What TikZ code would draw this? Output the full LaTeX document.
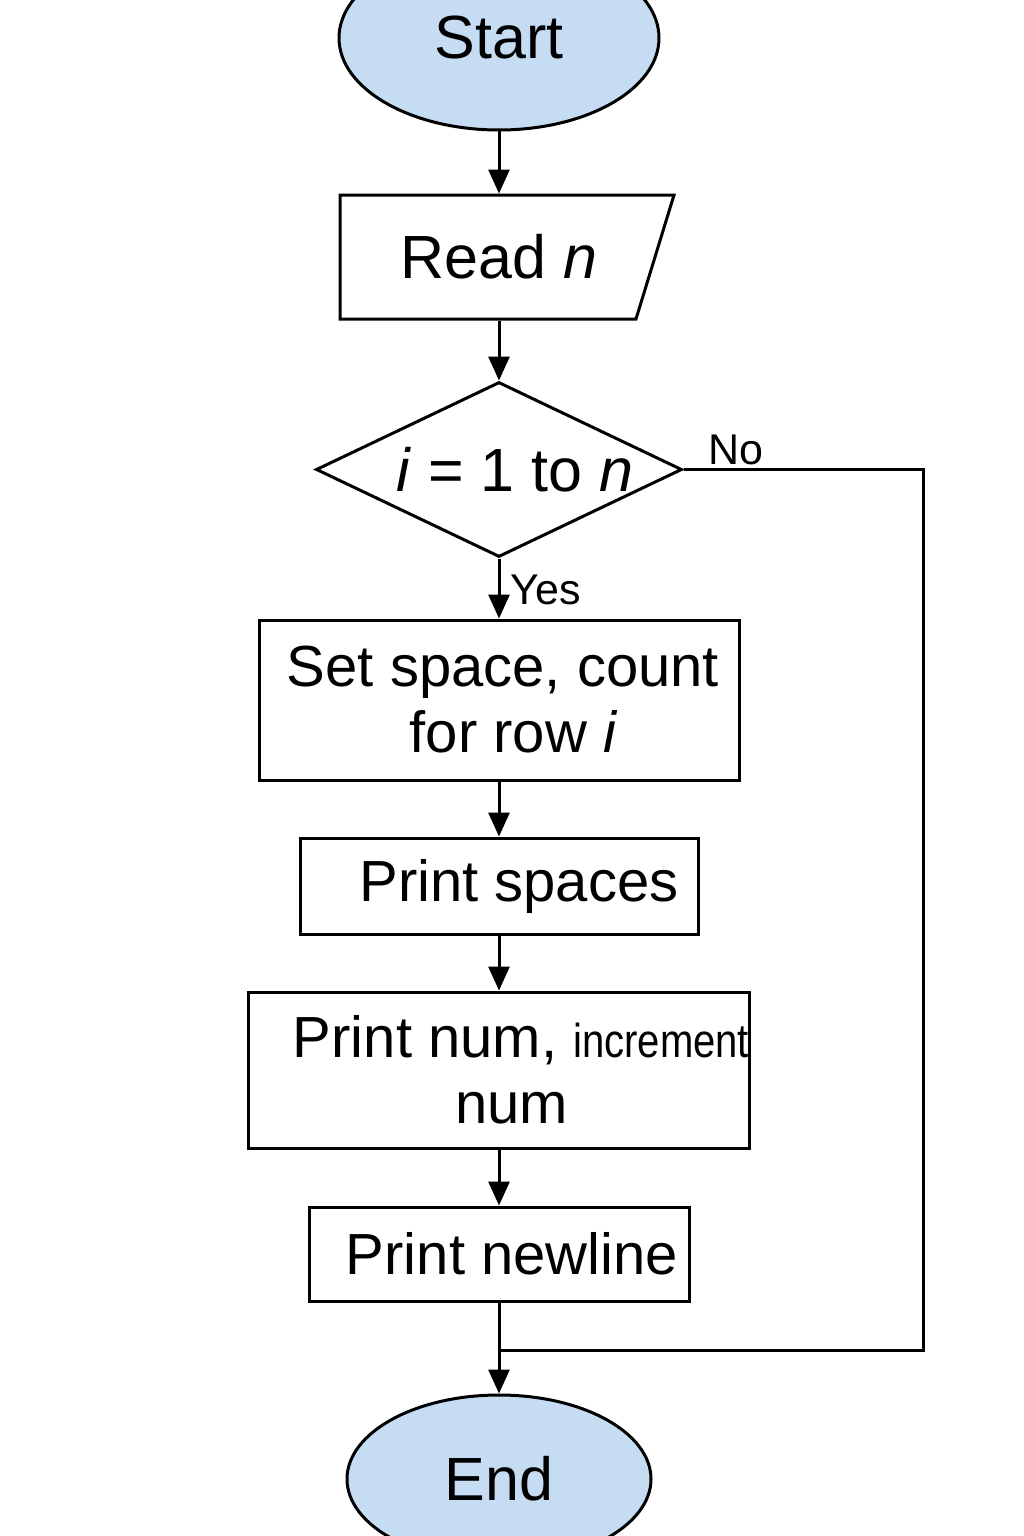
\documentclass[tikz,border=0pt]{standalone}
\usepackage{fontspec}
\setmainfont{Liberation Sans}
\usetikzlibrary{shapes.geometric,arrows.meta}
\definecolor{termfill}{HTML}{C5DCF3}
\begin{document}
\begin{tikzpicture}[x=1pt,y=-1pt,line width=3pt,
  >={Triangle[length=24pt,width=21pt]},
  big/.style={font=\fontsize{61pt}{66pt}\selectfont},
  mid/.style={font=\fontsize{58pt}{66pt}\selectfont},
  term/.style={ellipse,draw,fill=termfill,inner sep=0pt,big},
  box/.style={rectangle,draw,inner sep=0pt,align=center,mid},
  lbl/.style={font=\fontsize{43pt}{48pt}\selectfont,inner sep=0pt}]
\useasboundingbox (0,0) rectangle (1024,1536);
% terminals
\node[term,minimum width=320pt,minimum height=184pt] (start) at (499,38) {Start};
% input
\coordinate (r1) at (340,195);
\coordinate (r2) at (674,195);
\coordinate (r3) at (636,319);
\coordinate (r4) at (340,319);
\draw (r1) -- (r2) -- (r3) -- (r4) -- cycle;
\node[big,minimum width=290pt,minimum height=124pt,inner sep=0pt] (read) at (499,257) {Read \textit{n}};
% decision
\node[diamond,draw,minimum width=366pt,minimum height=175pt,inner sep=0pt] (dec) at (499,469.5) {};
\node[big,inner sep=0pt] (dect) at (515,470) {\textit{i} = 1 to \textit{n}};
% process boxes
\node[box,minimum width=480pt,minimum height=160pt] (set) at (499,700) {\hspace*{8pt}Set space, count\\\hspace*{29pt}for row \textit{i}};
\node[box,minimum width=398pt,minimum height=96pt] (spc) at (499,886) {\hspace*{40pt}Print spaces};
\node[box,minimum width=501pt,minimum height=156pt] (num) at (499,1070) {\hspace*{44pt}Print num, \scalebox{0.69}[0.82]{increment}\\\hspace*{25pt}num};
\node[box,minimum width=380pt,minimum height=94pt] (nl) at (499,1254) {\hspace*{26pt}Print newline};
\node[term,minimum width=304pt,minimum height=168pt] (end) at (499,1479) {End};
% connectors
\draw[->] (start.south) -- (read.north);
\draw[->] (read.south) -- (dec.north);
\draw[->] (dec.south) -- (set.north);
\draw[->] (set.south) -- (spc.north);
\draw[->] (spc.south) -- (num.north);
\draw[->] (num.south) -- (nl.north);
\coordinate (join) at (499,1350);
\coordinate (nocorner) at (923,469.5);
\draw[->] (nl.south) -- (join) -- (end.north);
\draw (dec.east) -- (nocorner) |- (join);
% labels
\node[lbl] (no) at (736,450) {No};
\node[lbl] (yes) at (546,590) {Yes};
\end{tikzpicture}
\end{document}
